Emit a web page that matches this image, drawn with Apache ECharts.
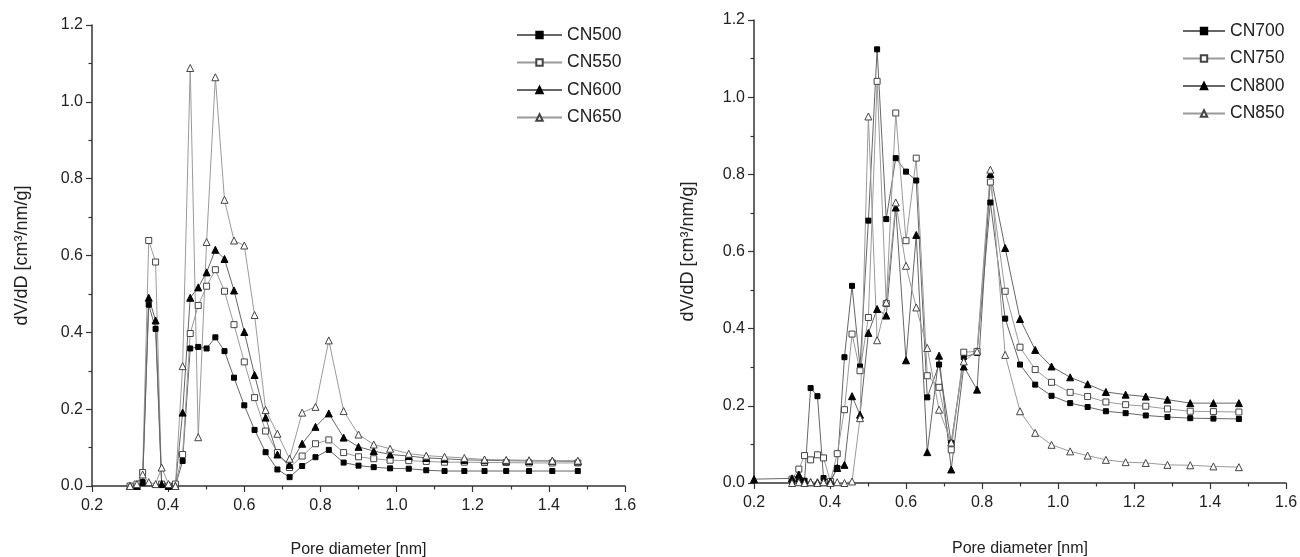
<!DOCTYPE html>
<html><head><meta charset="utf-8">
<script src="https://cdn.jsdelivr.net/npm/echarts@6/dist/echarts.min.js"></script>
<style>html,body{margin:0;padding:0;background:#fff}#c{width:1300px;height:557px}</style>
</head><body><div id="c"></div>
<script>
// Pore diameter grid [nm]
const poreDiameter = [0.200, 0.300, 0.318, 0.333, 0.349, 0.367, 0.383, 0.401, 0.419, 0.438, 0.458, 0.479, 0.501, 0.524, 0.548, 0.573, 0.600, 0.627, 0.656, 0.687, 0.719, 0.752, 0.787, 0.822, 0.861, 0.900, 0.940, 0.983, 1.032, 1.078, 1.126, 1.178, 1.231, 1.288, 1.348, 1.409, 1.476];

// Left panel
const cn500 = [null, 0, 0, 0.01, 0.472, 0.409, 0.005, 0, 0, 0.065, 0.358, 0.362, 0.358, 0.387, 0.351, 0.282, 0.210, 0.146, 0.088, 0.043, 0.023, 0.052, 0.075, 0.094, 0.061, 0.053, 0.049, 0.046, 0.045, 0.041, 0.039, 0.039, 0.039, 0.039, 0.039, 0.039, 0.039];
const cn550 = [null, 0, 0.005, 0.035, 0.639, 0.583, 0.005, 0, 0.005, 0.082, 0.397, 0.47, 0.52, 0.563, 0.507, 0.420, 0.323, 0.230, 0.143, 0.087, 0.048, 0.078, 0.110, 0.120, 0.087, 0.076, 0.071, 0.067, 0.066, 0.064, 0.062, 0.062, 0.061, 0.061, 0.060, 0.060, 0.060];
const cn600 = [null, 0, 0, 0.01, 0.490, 0.431, 0.005, 0, 0, 0.191, 0.490, 0.517, 0.556, 0.615, 0.591, 0.509, 0.401, 0.289, 0.178, 0.082, 0.055, 0.110, 0.154, 0.189, 0.126, 0.102, 0.091, 0.082, 0.078, 0.073, 0.071, 0.068, 0.067, 0.066, 0.065, 0.065, 0.064];
const cn650 = [null, 0, 0.005, 0.03, 0.01, 0.005, 0.048, 0.005, 0, 0.312, 1.088, 0.127, 0.635, 1.064, 0.745, 0.639, 0.626, 0.445, 0.198, 0.136, 0.071, 0.191, 0.206, 0.379, 0.195, 0.134, 0.108, 0.097, 0.084, 0.079, 0.076, 0.073, 0.069, 0.068, 0.067, 0.066, 0.066];

// Right panel
const cn700 = [null, 0.005, 0.005, 0.006, 0.246, 0.225, 0.013, 0.004, 0.039, 0.326, 0.511, 0.302, 0.680, 1.124, 0.684, 0.842, 0.807, 0.784, 0.222, 0.307, 0.104, 0.326, 0.337, 0.727, 0.426, 0.307, 0.255, 0.226, 0.207, 0.197, 0.186, 0.181, 0.175, 0.171, 0.168, 0.167, 0.166];
const cn750 = [null, 0.01, 0.036, 0.071, 0.06, 0.073, 0.065, 0.004, 0.076, 0.190, 0.386, 0.291, 0.429, 1.041, 0.465, 0.959, 0.628, 0.842, 0.278, 0.248, 0.086, 0.339, 0.341, 0.78, 0.497, 0.352, 0.294, 0.261, 0.235, 0.224, 0.210, 0.203, 0.199, 0.192, 0.186, 0.185, 0.184];
const cn800 = [0.01, 0.012, 0.022, 0.004, 0.002, 0.002, 0.002, 0.004, 0.039, 0.047, 0.225, 0.177, 0.389, 0.451, 0.434, 0.714, 0.318, 0.643, 0.080, 0.330, 0.035, 0.302, 0.242, 0.801, 0.609, 0.425, 0.345, 0.302, 0.274, 0.256, 0.236, 0.229, 0.224, 0.216, 0.207, 0.207, 0.207];
const cn850 = [null, 0, 0.002, 0, 0.002, 0, 0.002, 0, 0.002, 0, 0.004, 0.168, 0.950, 0.370, 0.468, 0.727, 0.563, 0.455, 0.350, 0.190, 0.105, 0.315, 0.341, 0.812, 0.332, 0.186, 0.130, 0.099, 0.082, 0.071, 0.060, 0.054, 0.052, 0.047, 0.046, 0.043, 0.041];

const leftNames = ['CN500', 'CN550', 'CN600', 'CN650'];
const rightNames = ['CN700', 'CN750', 'CN800', 'CN850'];
const xTicks = { min: 0.2, max: 1.6, interval: 0.2 };
const yTicks = { min: 0, max: 1.2, interval: 0.2 };
const xTitle = 'Pore diameter [nm]';
const yTitle = 'dV/dD [cm³/nm/g]';

const FONT = '"Liberation Sans", Arial, Helvetica, sans-serif';
const TXT = '#222';
const AX = '#333';

function pairs(ys) {
  const out = [];
  poreDiameter.forEach((x, i) => { if (ys[i] !== null) out.push([x, ys[i]]); });
  return out;
}

const styles = {
  filledSquare: { symbol: 'rect', symbolSize: 5, line: '#666', fill: '#000', border: '#000' },
  openSquare: { symbol: 'rect', symbolSize: 6, line: '#9a9a9a', fill: '#fff', border: '#444' },
  filledTri: { symbol: 'triangle', symbolSize: 7, line: '#666', fill: '#000', border: '#000' },
  openTri: { symbol: 'triangle', symbolSize: 7, line: '#9a9a9a', fill: '#fff', border: '#444' }
};
const order = ['filledSquare', 'openSquare', 'filledTri', 'openTri'];

function mkSeries(name, ys, idx, styleKey) {
  const s = styles[styleKey];
  return {
    type: 'line', name, xAxisIndex: idx, yAxisIndex: idx,
    data: pairs(ys),
    symbol: s.symbol, symbolSize: s.symbolSize, showAllSymbol: true,
    lineStyle: { color: s.line, width: 1 },
    itemStyle: { color: s.fill, borderColor: s.border, borderWidth: 1 },
    emphasis: { disabled: true },
    z: 2
  };
}

function xAxis(idx, gap) {
  return {
    type: 'value', gridIndex: idx, min: xTicks.min, max: xTicks.max, interval: xTicks.interval,
    axisLine: { show: true, onZero: false, lineStyle: { color: AX, width: 1.5 } },
    axisTick: { show: true, length: 6, lineStyle: { color: AX, width: 1.2 } },
    minorTick: { show: true, splitNumber: 2, length: 3.5, lineStyle: { color: AX, width: 1.2 } },
    splitLine: { show: false },
    axisLabel: { formatter: v => v.toFixed(1), fontSize: 16, color: TXT, fontFamily: FONT, margin: 12 },
    name: xTitle, nameLocation: 'middle', nameGap: gap,
    nameTextStyle: { fontSize: 16, color: TXT, fontFamily: FONT }
  };
}
function yAxis(idx, gap) {
  return {
    type: 'value', gridIndex: idx, min: yTicks.min, max: yTicks.max, interval: yTicks.interval,
    axisLine: { show: true, onZero: false, lineStyle: { color: AX, width: 1.5 } },
    axisTick: { show: true, length: 6, lineStyle: { color: AX, width: 1.2 } },
    minorTick: { show: true, splitNumber: 2, length: 3.5, lineStyle: { color: AX, width: 1.2 } },
    splitLine: { show: false },
    axisLabel: { formatter: v => v.toFixed(1), fontSize: 16, color: TXT, fontFamily: FONT, margin: 9 },
    name: yTitle, nameLocation: 'middle', nameGap: gap, nameRotate: 90,
    nameTextStyle: { fontSize: 18, color: TXT, fontFamily: FONT }
  };
}
function legend(names, left, top, w) {
  return {
    data: names, orient: 'vertical', left, top, itemWidth: w, itemHeight: 8, itemGap: 7.5,
    textStyle: { fontSize: 17.5, color: TXT, fontFamily: FONT, lineHeight: 20 },
    selectedMode: false
  };
}

const chart = echarts.init(document.getElementById('c'), null, { renderer: 'canvas' });
chart.setOption({
  animation: false,
  backgroundColor: '#fff',
  grid: [
    { left: 92, right: 675, top: 25, bottom: 71, outerBoundsMode: 'none', containLabel: false },
    { left: 754, right: 14, top: 20, bottom: 74, outerBoundsMode: 'none', containLabel: false }
  ],
  xAxis: [xAxis(0, 56), xAxis(1, 58)],
  yAxis: [yAxis(0, 61), yAxis(1, 57)],
  legend: [legend(leftNames, 511, 20, 45), legend(rightNames, 1177, 16, 42)],
  series: [
    mkSeries('CN500', cn500, 0, order[0]),
    mkSeries('CN550', cn550, 0, order[1]),
    mkSeries('CN600', cn600, 0, order[2]),
    mkSeries('CN650', cn650, 0, order[3]),
    mkSeries('CN700', cn700, 1, order[0]),
    mkSeries('CN750', cn750, 1, order[1]),
    mkSeries('CN800', cn800, 1, order[2]),
    mkSeries('CN850', cn850, 1, order[3])
  ]
});
</script></body></html>
